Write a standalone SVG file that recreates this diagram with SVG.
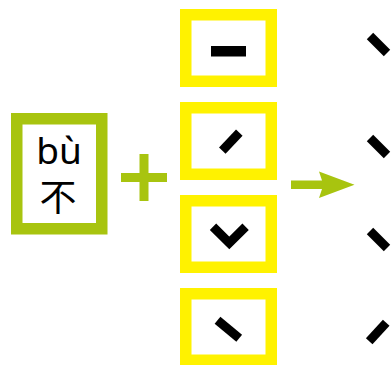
<svg xmlns="http://www.w3.org/2000/svg" width="391" height="365" viewBox="0 0 391 365">
<style>
.gbox{fill:#fff;stroke:#a8c40f;stroke-width:11.5}
.ybox{fill:#fff;stroke:#fff200;stroke-width:11.5}
.st{fill:none;stroke:#000;stroke-width:9;stroke-linecap:butt;stroke-linejoin:miter}
.py{font-family:"Noto Sans","DejaVu Sans",sans-serif;font-size:37px;fill:#000}
.hz{font-family:"Noto Sans CJK SC",sans-serif;font-size:37px;fill:#000}
.g{fill:#a8c40f}
</style>
<rect width="391" height="365" fill="#fff"/>
<g id="bu">
<rect class="gbox" x="16.75" y="118.75" width="85" height="110"/>
<text class="py" x="59" y="164" text-anchor="middle">bù</text>
<text class="hz" x="58" y="211" text-anchor="middle">不</text>
</g>
<g id="plus">
<rect class="g" x="121" y="173" width="46" height="9"/>
<rect class="g" x="139.5" y="154" width="9" height="47"/>
</g>
<g id="stroke1">
<rect class="ybox" x="185.75" y="14.75" width="85.5" height="66.5"/>
<rect x="211" y="46" width="35" height="10.5" fill="#000"/>
</g>
<g id="stroke2">
<rect class="ybox" x="185.75" y="107.75" width="85.5" height="66.5"/>
<line class="st" x1="222.3" y1="150.7" x2="239.3" y2="132.7"/>
</g>
<g id="stroke3">
<rect class="ybox" x="185.75" y="200.75" width="85.5" height="66.5"/>
<polyline class="st" points="213,226.7 229.3,243 245.6,226.7"/>
</g>
<g id="stroke4">
<rect class="ybox" x="185.75" y="293.75" width="85.5" height="66.5"/>
<line class="st" x1="217.5" y1="320.3" x2="239.2" y2="338.3"/>
</g>
<g id="connectors">
<polygon class="g" points="291,180.5 322,180.5 319,171.5 354.5,184.8 319,198 322,189 291,189"/>
</g>
<g id="results">
<line class="st" x1="370" y1="36" x2="387" y2="53"/>
<line class="st" x1="370" y1="138" x2="387" y2="155"/>
<line class="st" x1="370" y1="231" x2="387" y2="248"/>
<line class="st" x1="369.2" y1="341.2" x2="386.2" y2="322.8"/>
</g>
</svg>
